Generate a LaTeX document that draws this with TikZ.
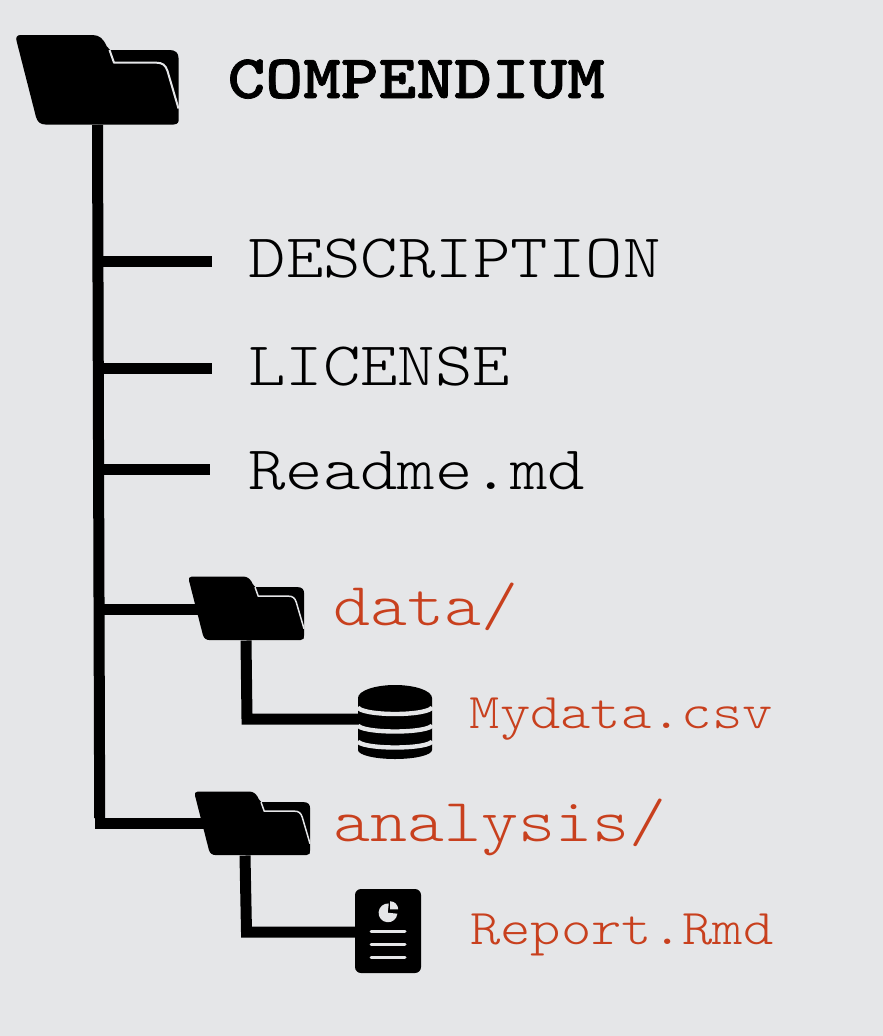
\documentclass[tikz,border=0pt]{standalone}
\usepackage{fontspec}
\newfontfamily\plainmono[FakeStretch=1.15]{Latin Modern Mono Light}
\newfontfamily\redmono[FakeStretch=1.155]{Latin Modern Mono Light}
\newfontfamily\boldmono[FakeStretch=1.159,FakeBold=1.2]{Latin Modern Mono Light}
\definecolor{bgc}{HTML}{E5E6E8}
\definecolor{redc}{HTML}{C8401E}
\tikzset{
  iconbox/.style={inner sep=0pt,outer sep=0pt,draw=none},
  wire/.style={line width=11pt,black},
  title/.style={inner sep=0pt,anchor=base west,font=\boldmono\bfseries\fontsize{62}{62}\selectfont},
  entry/.style={inner sep=0pt,anchor=base west,font=\plainmono\fontsize{62}{62}\selectfont},
  dirname/.style={inner sep=0pt,anchor=base west,text=redc,font=\redmono\fontsize{61}{61}\selectfont},
  filename/.style={inner sep=0pt,anchor=base west,text=redc,font=\redmono\fontsize{50}{50}\selectfont},
}
\newcommand{\FolderAt}[3]{%
  \begin{scope}[shift={(#1.north west)},scale=#2]
    \fill[black]
      (0.2,6.5) .. controls (-1,3) and (0,0) .. (4,0) -- (76,0)
      .. controls (83,0) and (87,4) .. (90,11) -- (93.5,15) -- (153,15)
      .. controls (159,15) and (162,18) .. (162,23) -- (162,83)
      .. controls (163,87) and (161,89.5) .. (157,89.5) -- (29,89.5)
      .. controls (24,89.5) and (21,87) .. (19.5,82) -- cycle;
    \draw[bgc,line width=#3pt,line join=round]
      (93,15) -- (97.5,27.7) -- (140,27.7)
      .. controls (146,27.7) and (149,30) .. (151,36) -- (162,73.5);
  \end{scope}}
\begin{document}
\begin{tikzpicture}[x=1pt,y=-1pt]
\useasboundingbox (0,0) rectangle (883,1036);
\fill[bgc] (0,0) rectangle (883,1036);
% icons' frames
\node[iconbox,minimum width=162pt,minimum height=90pt] (root) at (97.5,80) {};
\node[iconbox,minimum width=115pt,minimum height=64pt] (datadir) at (246.5,608.5) {};
\node[iconbox,minimum width=115pt,minimum height=64pt] (analysisdir) at (252.5,823.5) {};
\node[iconbox,minimum width=74pt,minimum height=74pt] (db) at (395,722) {};
\node[iconbox,minimum width=66pt,minimum height=84pt] (report) at (388,931) {};
% labels
\node[title] (tcomp) at (227.5,98) {COMPENDIUM};
\node[entry] (tdesc) at (248.5,277) {DESCRIPTION};
\node[entry] (tlic) at (248,385) {LICENSE};
\node[entry] (tread) at (248,489) {Readme.md};
\node[dirname] (tdata) at (333,625) {data/};
\node[dirname] (tana) at (333,841) {analysis/};
\node[filename] (tmy) at (469.5,728) {Mydata.csv};
\node[filename] (trep) at (470,944) {Report.Rmd};
% connector ends
\coordinate (jdesc) at (98.5,261);
\coordinate (jlic) at (98.7,368);
\coordinate (jread) at (99,469);
\coordinate (jdata) at (99.2,609);
\coordinate (jana) at (99.7,823);
\coordinate (edesc) at (212,261);
\coordinate (elic) at (212,368);
\coordinate (eread) at (210,469);
\coordinate (cdata) at (247,719);
\coordinate (cana) at (246.5,932);
% connectors
\draw[wire] (root.south) -- ([yshift=5pt]jana);
\draw[wire] (jdesc) -- (edesc);
\draw[wire] (jlic) -- (elic);
\draw[wire] (jread) -- (eread);
\draw[wire] (jdata) -- (datadir.center |- jdata);
\draw[wire] ([xshift=-5pt]jana) -- (analysisdir.center |- jana);
\draw[wire,line join=miter] ([xshift=-0.5pt]datadir.south) -- (cdata) -- (db.center |- cdata);
\draw[wire,line join=miter] ([xshift=-7.5pt]analysisdir.south) -- (cana) -- (report.center |- cana);
% folders
\FolderAt{root}{1}{2}
\FolderAt{datadir}{0.71}{1.5}
\FolderAt{analysisdir}{0.71}{1.5}
% database
\begin{scope}[shift={(db.center)},y=1pt]
  \fill[black] (-37,24) arc[start angle=180,end angle=0,x radius=37,y radius=13]
    -- (37,-28) arc[start angle=0,end angle=-180,x radius=37,y radius=9] -- cycle;
  \draw[bgc,line width=4.4pt] (-37,15) arc[start angle=180,end angle=360,x radius=37,y radius=7];
  \draw[bgc,line width=4.4pt] (-37,-3) arc[start angle=180,end angle=360,x radius=37,y radius=6.5];
  \draw[bgc,line width=4.4pt] (-37,-19) arc[start angle=180,end angle=360,x radius=37,y radius=6.5];
\end{scope}
% report
\fill[black,rounded corners=6pt] (report.north west) rectangle (report.south east);
\begin{scope}[shift={(report.center)},y=1pt]
  \fill[bgc] (-0.3,18.3) -- (0.8,27.5) arc[start angle=85,end angle=355,radius=9.4] -- cycle;
  \fill[bgc] (2,21.7) -- (2,29.8) arc[start angle=90,end angle=0,radius=8.2] -- cycle;
\end{scope}
\foreach \yy in {0,13,26}{
  \draw[bgc,line width=3pt,line cap=round] ([shift={(-17,\yy)}]report.center) -- ([shift={(17,\yy)}]report.center);
}
\end{tikzpicture}
\end{document}
